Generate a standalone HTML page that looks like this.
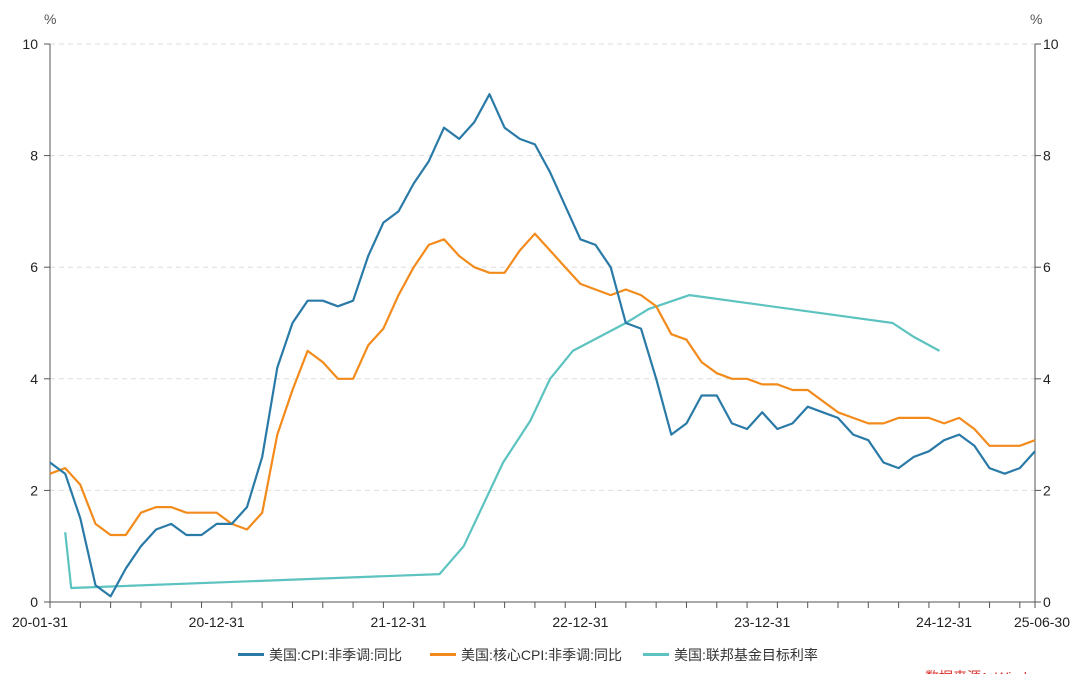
<!DOCTYPE html>
<html><head><meta charset="utf-8"><style>
body{margin:0;background:#fff;font-family:"Liberation Sans","Noto Sans CJK SC",sans-serif;}
svg text{font-family:"Liberation Sans","Noto Sans CJK SC",sans-serif;}
</style></head><body>
<svg id="chart" width="1080" height="674" xmlns="http://www.w3.org/2000/svg"></svg>
<script>
const xLabels=["20-01-31","20-12-31","21-12-31","22-12-31","23-12-31","24-12-31","25-06-30"];
const xLabelIdx=[0,11,23,35,47,59,65];
const yTicks=[0,2,4,6,8,10];
const cpi=[2.5,2.3,1.5,0.3,0.1,0.6,1.0,1.3,1.4,1.2,1.2,1.4,
1.4,1.7,2.6,4.2,5.0,5.4,5.4,5.3,5.4,6.2,6.8,7.0,
7.5,7.9,8.5,8.3,8.6,9.1,8.5,8.3,8.2,7.7,7.1,6.5,
6.4,6.0,5.0,4.9,4.0,3.0,3.2,3.7,3.7,3.2,3.1,3.4,
3.1,3.2,3.5,3.4,3.3,3.0,2.9,2.5,2.4,2.6,2.7,2.9,
3.0,2.8,2.4,2.3,2.4,2.7];
const core=[2.3,2.4,2.1,1.4,1.2,1.2,1.6,1.7,1.7,1.6,1.6,1.6,
1.4,1.3,1.6,3.0,3.8,4.5,4.3,4.0,4.0,4.6,4.9,5.5,
6.0,6.4,6.5,6.2,6.0,5.9,5.9,6.3,6.6,6.3,6.0,5.7,
5.6,5.5,5.6,5.5,5.3,4.8,4.7,4.3,4.1,4.0,4.0,3.9,
3.9,3.8,3.8,3.6,3.4,3.3,3.2,3.2,3.3,3.3,3.3,3.2,
3.3,3.1,2.8,2.8,2.8,2.9];
const fedIdx=[1,1.4,25.7,27.3,29.9,31.7,33,34.5,38,39.5,42.2,55.6,57,58.7];
const fedVal=[1.25,0.25,0.5,1.0,2.5,3.25,4.0,4.5,5.0,5.25,5.5,5.0,4.75,4.5];

const svg=document.getElementById('chart');
const NS='http://www.w3.org/2000/svg';
const X0=50,X1=1035,Y0=602,Y10=44;
const xs=i=>X0+(X1-X0)*i/65;
const ys=v=>Y0-(Y0-Y10)*v/10;
function mk(t,a){const e=document.createElementNS(NS,t);for(const k in a)e.setAttribute(k,a[k]);svg.appendChild(e);return e;}
// grid
yTicks.forEach(v=>{
 if(v>0){const g=mk('line',{x1:X0,x2:X1,y1:ys(v),y2:ys(v),stroke:'#ddd','stroke-dasharray':'5,4'});
 
 }
 const l=mk('text',{x:X0-12,y:ys(v)+5,'text-anchor':'end','font-size':14,fill:'#222'});l.textContent=v;
 
 
 const r=mk('text',{x:X1+8,y:ys(v)+5,'font-size':14,fill:'#222'});r.textContent=v;
 
 
 mk('line',{x1:X0-6,x2:X0,y1:ys(v),y2:ys(v),stroke:'#555'});
 mk('line',{x1:X1,x2:X1+6,y1:ys(v),y2:ys(v),stroke:'#555'});
});
mk('line',{x1:X0,x2:X0,y1:Y10,y2:Y0,stroke:'#555'});
mk('line',{x1:X1,x2:X1,y1:Y10,y2:Y0,stroke:'#555'});
mk('line',{x1:X0,x2:X1,y1:Y0,y2:Y0,stroke:'#555'});
for(let i=0;i<=65;i+=2){mk('line',{x1:xs(i),x2:xs(i),y1:Y0,y2:Y0+6,stroke:'#555'});}
mk('line',{x1:X1,x2:X1,y1:Y0,y2:Y0+6,stroke:'#555'});
let t=mk('text',{x:44,y:24,'font-size':14,fill:'#555'});t.textContent='%';


t=mk('text',{x:1030,y:24,'font-size':14,fill:'#555'});t.textContent='%';


xLabels.forEach((s,k)=>{
 const tx=mk('text',{x:xs(xLabelIdx[k]),y:627,'text-anchor':k==0?'start':(k==6?'end':'middle'),'font-size':14,fill:'#222'});
 if(k==0)tx.setAttribute('x',xs(0)-48+10);
 if(k==6)tx.setAttribute('x',xs(65)+35);
 tx.textContent=s;
 
 
});
function line(ix,vals,color,name){
 const d=vals.map((v,i)=>(i?'L':'M')+xs(ix?ix[i]:i).toFixed(1)+','+ys(v).toFixed(1)).join('');
 const p=mk('path',{d:d,fill:'none',stroke:color,'stroke-width':2.2,'stroke-linejoin':'round'});
 
 
}
line(fedIdx,fedVal,'#5cc3c0','fed-funds-line');
line(null,core,'#f28b1c','core-cpi-line');
line(null,cpi,'#2a7aa8','cpi-line');
// legend
const leg=[['#2a7aa8','美国:CPI:非季调:同比',238],['#f28b1c','美国:核心CPI:非季调:同比',430],['#5cc3c0','美国:联邦基金目标利率',643]];
leg.forEach(([c,s,x])=>{
 const r=mk('rect',{x:x,y:653,width:26,height:3,fill:c});
 
 
 const tx=mk('text',{x:x+31,y:660,'font-size':14,fill:'#333'});tx.textContent=s;
 
 
});
t=mk('text',{x:925,y:682,'font-size':14,fill:'#d9322e'});t.textContent='数据来源：Wind';


</script>
</body></html>
